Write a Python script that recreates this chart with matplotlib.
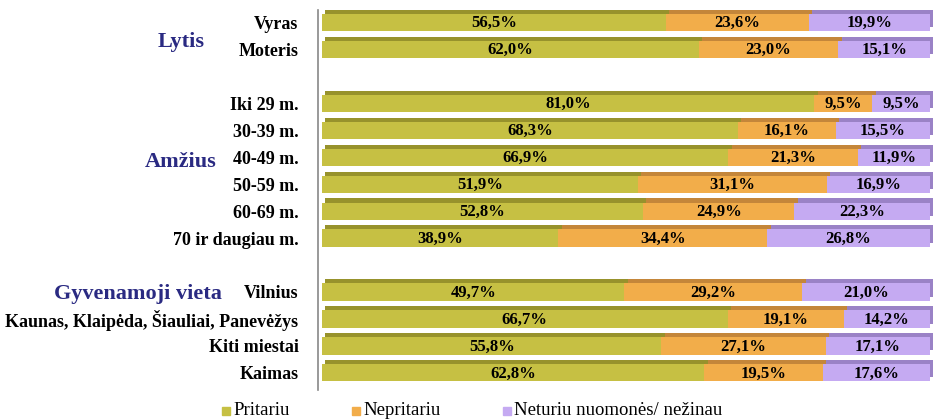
import numpy as np
import matplotlib.pyplot as plt
from matplotlib.patches import Rectangle

categories = ["Vyras", "Moteris",
              "Iki 29 m.", "30-39 m.", "40-49 m.", "50-59 m.", "60-69 m.", "70 ir daugiau m.",
              "Vilnius", "Kaunas, Klaipėda, Šiauliai, Panevėžys", "Kiti miestai", "Kaimas"]
rows = [0, 1, 3, 4, 5, 6, 7, 8, 10, 11, 12, 13]

pritariu = [56.5, 62.0, 81.0, 68.3, 66.9, 51.9, 52.8, 38.9, 49.7, 66.7, 55.8, 62.8]
nepritariu = [23.6, 23.0, 9.5, 16.1, 21.3, 31.1, 24.9, 34.4, 29.2, 19.1, 27.1, 19.5]
neturiu = [19.9, 15.1, 9.5, 15.5, 11.9, 16.9, 22.3, 26.8, 21.0, 14.2, 17.1, 17.6]

series_names = ["Pritariu", "Nepritariu", "Neturiu nuomonės/ nežinau"]
groups = ["Lytis", "Amžius", "Gyvenamoji vieta"]

front = ["#c6c043", "#f2ad4a", "#c5aaf2"]
back = ["#97922c", "#c4863a", "#9a82c6"]

plt.rcParams['font.family'] = ['Liberation Serif', 'DejaVu Serif']

W, H = 933, 419
fig = plt.figure(figsize=(W / 100, H / 100), dpi=100)
ax = fig.add_axes([318 / W, 1 - 390 / H, (W - 318) / W, 380 / H])

vals = np.array([pritariu, nepritariu, neturiu])
vals = vals / vals.sum(axis=0) * 100
y = np.array(rows)
h = 0.64
dx, dy = 0.55, 0.15

left = np.zeros(len(rows))
for i in range(3):
    ax.barh(y - dy, vals[i], left=left + dx, height=h, color=back[i], linewidth=0, zorder=1)
    left += vals[i]

left = np.zeros(len(rows))
for i in range(3):
    ax.barh(y, vals[i], left=left, height=h, color=front[i], linewidth=0, zorder=2)
    raw = [pritariu, nepritariu, neturiu][i]
    for j in range(len(rows)):
        ax.text(left[j] + vals[i][j] / 2, y[j] + 0.03, f"{raw[j]:.1f}%".replace(".", ","),
                ha="center", va="center", fontsize=12, fontweight="bold", zorder=3)
    left += vals[i]

px = 608 / 100
ax.set_xlim(-4 / px, (W - 322) / px)
ax.set_ylim((390 - 22.5) / 26.95, (10 - 22.5) / 26.95)
ax.set_yticks(rows)
ax.set_yticklabels(categories, fontsize=13, fontweight="bold")
ax.tick_params(axis="y", length=0, pad=14)
ax.set_xticks([])
for s in ["top", "right", "bottom"]:
    ax.spines[s].set_visible(False)
ax.spines["left"].set_color("#888888")
ax.spines["left"].set_linewidth(1.2)

# group labels
gpos = [(181, 42), (181, 162), (138, 294)]
for g, (gx, gy) in zip(groups, gpos):
    fig.text(gx / W, 1 - gy / H, g, ha="center", va="center", fontsize=16,
             fontweight="bold", color="#2a2a82")

# legend
lpos = [222, 352, 503]
for i, name in enumerate(series_names):
    fig.patches.append(Rectangle((lpos[i] / W, 1 - 415 / H), 8 / W, 8 / H,
                                 transform=fig.transFigure, color=front[i]))
    fig.text((lpos[i] + 11) / W, 1 - 410 / H, name, ha="left", va="center", fontsize=13.5)

fig.savefig("out.png", dpi=100)
